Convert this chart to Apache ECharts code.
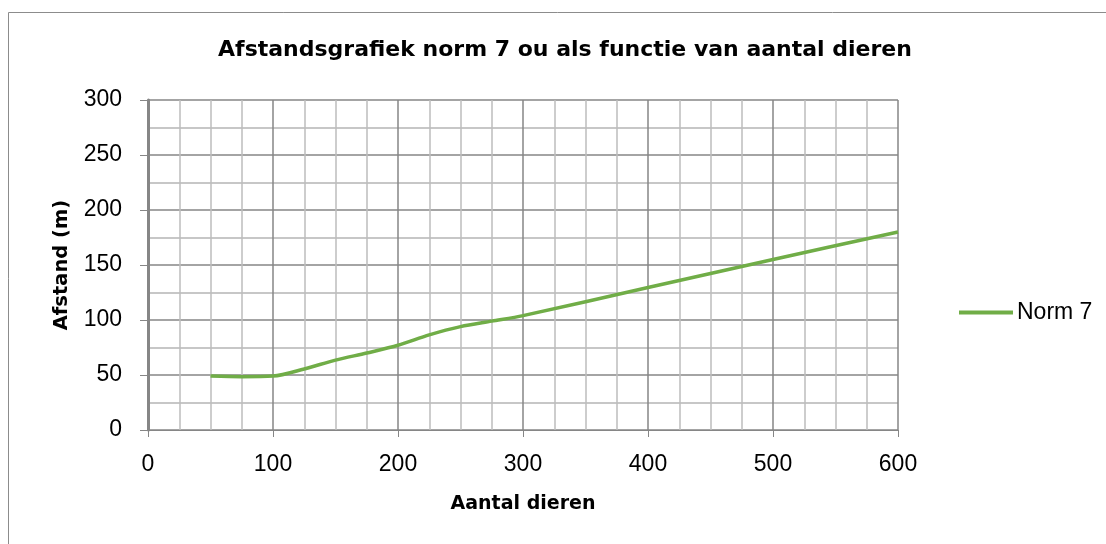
<!DOCTYPE html>
<html lang="nl">
<head>
    <meta charset="UTF-8">
    <script src="https://cdn.jsdelivr.net/npm/echarts@6/dist/echarts.min.js"></script>
    <title>Afstandsgrafiek</title>
    <style type="text/css">
        body { margin: 0; background: #fff; }
        #chart { width: 1106px; height: 544px; }
    </style>
</head>
<body>
<div id="chart"></div>
<script type="text/javascript">
    // aantal dieren (x) en afstand in meters (y)
    const dieren = [50, 75, 100, 125, 150, 175, 200, 225, 250, 275, 300, 400, 500, 600];
    const afstand = [49, 48.5, 49, 55.5, 63.5, 70, 77, 86.5, 94, 99, 104, 129.5, 155, 180];
    const serieNaam = 'Norm 7';

    const points = [];
    for (let i = 0; i < dieren.length; i++) {
        points.push([dieren[i], afstand[i]]);
    }

    const boldFont = '"DejaVu Sans", sans-serif';
    const tickFont = '"Liberation Sans", Arial, sans-serif';
    const myChart = echarts.init(document.getElementById('chart'));

    const option = {
        backgroundColor: '#fff',
        animation: false,
        title: {
            text: 'Afstandsgrafiek norm 7 ou als functie van aantal dieren',
            left: 560,
            textAlign: 'center',
            top: 34,
            textStyle: { fontFamily: boldFont, fontWeight: 'bold', fontSize: 22, color: '#000' }
        },
        graphic: [{
            type: 'rect',
            shape: { x: 8.5, y: 12.5, width: 1110, height: 540 },
            style: { fill: 'none', stroke: '#8c8c8c', lineWidth: 1 },
            silent: true
        }],
        legend: {
            left: 959,
            top: 301,
            padding: 0,
            itemWidth: 54,
            itemHeight: 4,
            icon: 'rect',
            textStyle: { fontFamily: tickFont, fontSize: 23, color: '#000', padding: [0, 0, 0, -1] },
            data: [serieNaam]
        },
        grid: { left: 148, right: 208, top: 100, bottom: 114 },
        xAxis: {
            type: 'value',
            min: 0, max: 600, interval: 100,
            name: 'Aantal dieren',
            nameLocation: 'middle',
            nameGap: 65,
            nameTextStyle: { fontFamily: boldFont, fontWeight: 'bold', fontSize: 19, color: '#000' },
            axisLine: { show: true, lineStyle: { color: '#868686', width: 1 } },
            axisTick: { show: true, length: 7, lineStyle: { color: '#868686' } },
            axisLabel: { fontFamily: tickFont, fontSize: 23, color: '#000', margin: 23 },
            splitLine: { show: true, lineStyle: { color: '#868686', width: 1.5 } },
            minorTick: { show: false, splitNumber: 4 },
            minorSplitLine: { show: true, lineStyle: { color: '#bdbdbd', width: 1.5 } }
        },
        yAxis: {
            type: 'value',
            min: 0, max: 300, interval: 50,
            name: 'Afstand (m)',
            nameLocation: 'middle',
            nameGap: 76,
            nameRotate: 90,
            nameTextStyle: { fontFamily: boldFont, fontWeight: 'bold', fontSize: 19.5, color: '#000' },
            axisLine: { show: true, lineStyle: { color: '#868686', width: 3 } },
            axisTick: { show: true, length: 8, lineStyle: { color: '#868686' } },
            axisLabel: { fontFamily: tickFont, fontSize: 23, color: '#000', margin: 26 },
            splitLine: { show: true, lineStyle: { color: '#868686', width: 1.5 } },
            minorTick: { show: false, splitNumber: 2 },
            minorSplitLine: { show: true, lineStyle: { color: '#b5b5b5', width: 1.5 } }
        },
        series: [{
            name: serieNaam,
            type: 'line',
            data: points,
            smooth: 0.3,
            showSymbol: false,
            symbol: 'none',
            lineStyle: { color: '#70ad47', width: 3.5 },
            itemStyle: { color: '#70ad47' }
        }]
    };

    myChart.setOption(option);
</script>
</body>
</html>
